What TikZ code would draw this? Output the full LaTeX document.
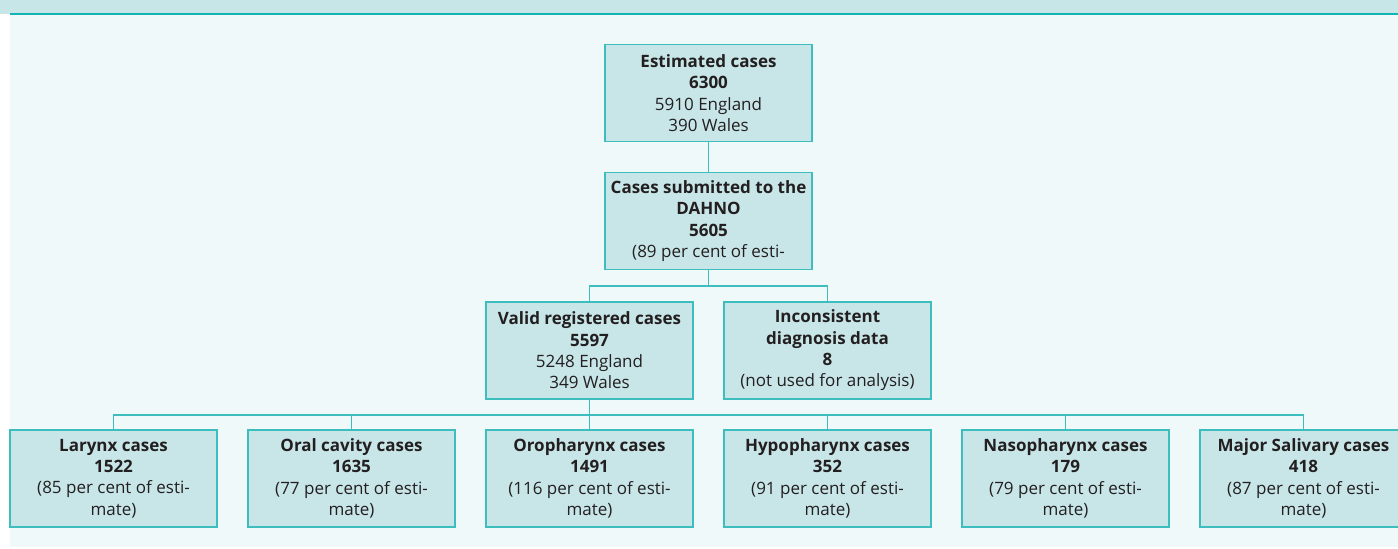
\documentclass[tikz,border=0pt]{standalone}
\usepackage{fontspec}
\setmainfont{Open Sans}
\definecolor{bandfill}{HTML}{C6E6E8}
\definecolor{bandline}{HTML}{12B3B3}
\definecolor{pagefill}{HTML}{F0F9F9}
\definecolor{boxfill}{HTML}{C8E6E8}
\definecolor{boxline}{HTML}{3DBDBD}
\definecolor{ink}{HTML}{231F20}
\tikzset{
  casebox/.style={
    draw = boxline,
    fill = boxfill,
    line width = 1.2pt,
    minimum width = 207pt,
    minimum height = 97pt,
    inner sep = 2pt,
    align = center,
    text = ink,
    font = \fontsize{17}{21.3}\selectfont,
  },
  link/.style={
    draw = boxline,
    line width = 1.2pt,
  }
}

\begin{document}
\begin{tikzpicture}[x=1pt, y=-1pt]
            \clip (0,0) rectangle (1398,549);
            \fill[bandfill] (0,0) rectangle (1398,14);
            \fill[pagefill] (10,15) rectangle (1398,547);
            \draw[bandline, line width=2pt] (10,14) -- (1398,14);

            \node[casebox] (est) at (708.5,93) {\textbf{Estimated cases}\\\textbf{6300}\\5910 England\\390 Wales};
            \node[casebox] (sub) at (708.5,221) {\textbf{Cases submitted to the}\\\textbf{DAHNO}\\\textbf{5605}\\(89 per cent of esti-};
            \node[casebox] (valid) at (589.5,350.5) {\textbf{Valid registered cases}\\\textbf{5597}\\5248 England\\349 Wales};
            \node[casebox] (incon) at (827.5,350.5) {\textbf{Inconsistent}\\\textbf{diagnosis data}\\\textbf{8}\\(not used for analysis)};

            \foreach \nm/\x/\site/\num/\pc in {lar/113.5/Larynx/1522/85, oral/351.5/Oral cavity/1635/77,
                oro/589.5/Oropharynx/1491/116, hypo/827.5/Hypopharynx/352/91,
                naso/1065.5/Nasopharynx/179/79, sal/1303.5/Major Salivary/418/87}
              \node[casebox] (\nm) at (\x,478.5) {\textbf{\site\ cases}\\\textbf{\num}\\(\pc\ per cent of esti-\\mate)};

            \coordinate (split1) at (708.5,286);
            \coordinate (split2) at (589.5,415);

            \draw[link] (est) -- (sub);
            \draw[link] (sub) -- (split1);
            \draw[link] (valid.north) |- (split1) -| (incon.north);
            \draw[link] (valid) -- (split2);
            \foreach \nm in {lar,oral,hypo,naso,sal}
              \draw[link] (split2) -| (\nm.north);
            \draw[link] (split2) -- (oro);
        \end{tikzpicture}
\end{document}
